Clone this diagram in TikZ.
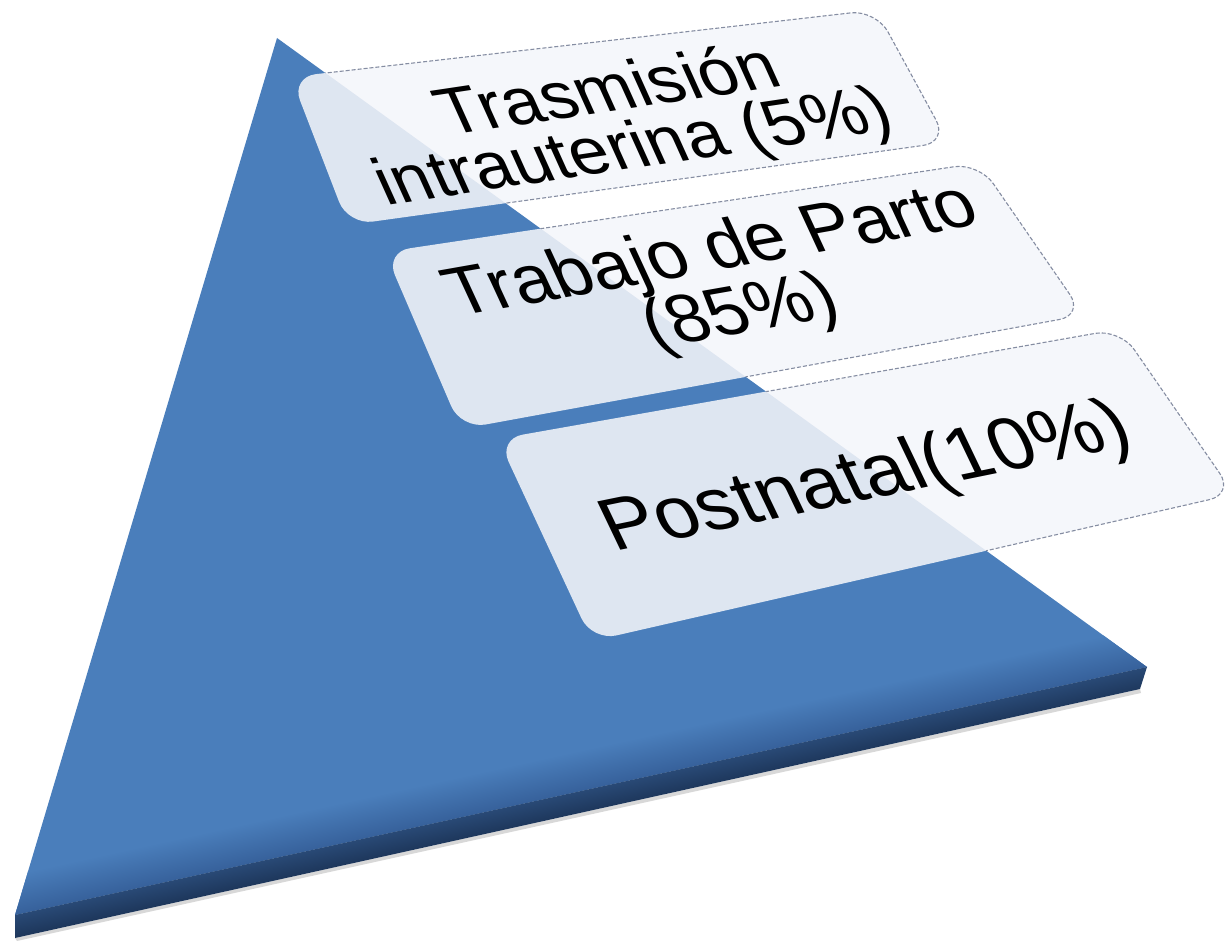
\documentclass[tikz,border=0pt]{standalone}
\usepackage{fontspec}
\setmainfont{Liberation Sans}
\definecolor{facecol}{HTML}{4A7EBB}
\definecolor{bevelcol}{HTML}{36609A}
\definecolor{sidetop}{HTML}{2A4B78}
\definecolor{sidebot}{HTML}{1B3356}
\definecolor{boxfill}{HTML}{F4F6FA}
\definecolor{boxline}{HTML}{858DA2}
\tikzset{
  panel/.style={fill=boxfill, fill opacity=0.87, rounded corners=25pt},
  panelrim/.style={draw=boxline, line width=1.1pt, dash pattern=on 4pt off 2pt, rounded corners=25pt},
  paneltext/.style={text=black, align=center, inner sep=0pt}
}
\begin{document}
\begin{tikzpicture}[x=1pt,y=-1pt]
\useasboundingbox (0,0) rectangle (1229,941);
% pyramid
\coordinate (A) at (277,38);
\coordinate (L) at (15,915);
\coordinate (R) at (1147,667);
\coordinate (L2) at (15,938);
\coordinate (R2) at (1140,689);
\fill[black!30, opacity=0.5] (L2) -- (R2) -- (1141,693) -- (17,941) -- cycle;
\fill[facecol] (A) -- (L) -- (R) -- cycle;
\begin{scope}
  \clip (A) -- (L) -- (R) -- cycle;
  \begin{scope}[transform canvas={rotate around={12.36:(L)}}]
    \shade[top color=facecol, bottom color=bevelcol] (-20,875) rectangle (1200,916);
  \end{scope}
\end{scope}
\begin{scope}
  \clip (L) -- (R) -- (R2) -- (L2) -- cycle;
  \begin{scope}[transform canvas={rotate around={12.36:(L)}}]
    \shade[top color=sidetop, bottom color=sidebot] (-20,913) rectangle (1200,941);
  \end{scope}
\end{scope}
% panels
\coordinate (P1a) at (291,77);  \coordinate (P1b) at (876,10);
\coordinate (P1c) at (948,142); \coordinate (P1d) at (348,225);
\coordinate (P2a) at (385,252); \coordinate (P2b) at (979,163);
\coordinate (P2c) at (1084,315); \coordinate (P2d) at (461,429);
\coordinate (P3a) at (498,439); \coordinate (P3b) at (1120,329);
\coordinate (P3c) at (1234,494); \coordinate (P3d) at (592,641);
\foreach \p in {1,2,3}
  \fill[panel] (P\p a) -- (P\p b) -- (P\p c) -- (P\p d) -- cycle;
\begin{scope}[even odd rule]
  \clip (-10,-10) rectangle (1240,950) (A) -- (L) -- (R) -- cycle;
  \foreach \p in {1,2,3}
    \draw[panelrim] (P\p a) -- (P\p b) -- (P\p c) -- (P\p d) -- cycle;
\end{scope}
% labels
\node[paneltext, font=\fontsize{70}{62}\selectfont, cm={0.989,0.148,-0.41,0.91,(0,0)}] (t1) at (622,122)
  {Trasmisión\\intrauterina (5\%)};
\node[paneltext, font=\fontsize{72}{62}\selectfont, cm={0.985,0.174,-0.42,0.91,(0,0)}] (t2) at (727,284)
  {Trabajo de Parto\\(85\%)};
\node[paneltext, font=\fontsize{78}{70}\selectfont, cm={0.98,0.2,-0.43,0.90,(0,0)}] (t3) at (867,480)
  {Postnatal(10\%)};
\end{tikzpicture}
\end{document}
